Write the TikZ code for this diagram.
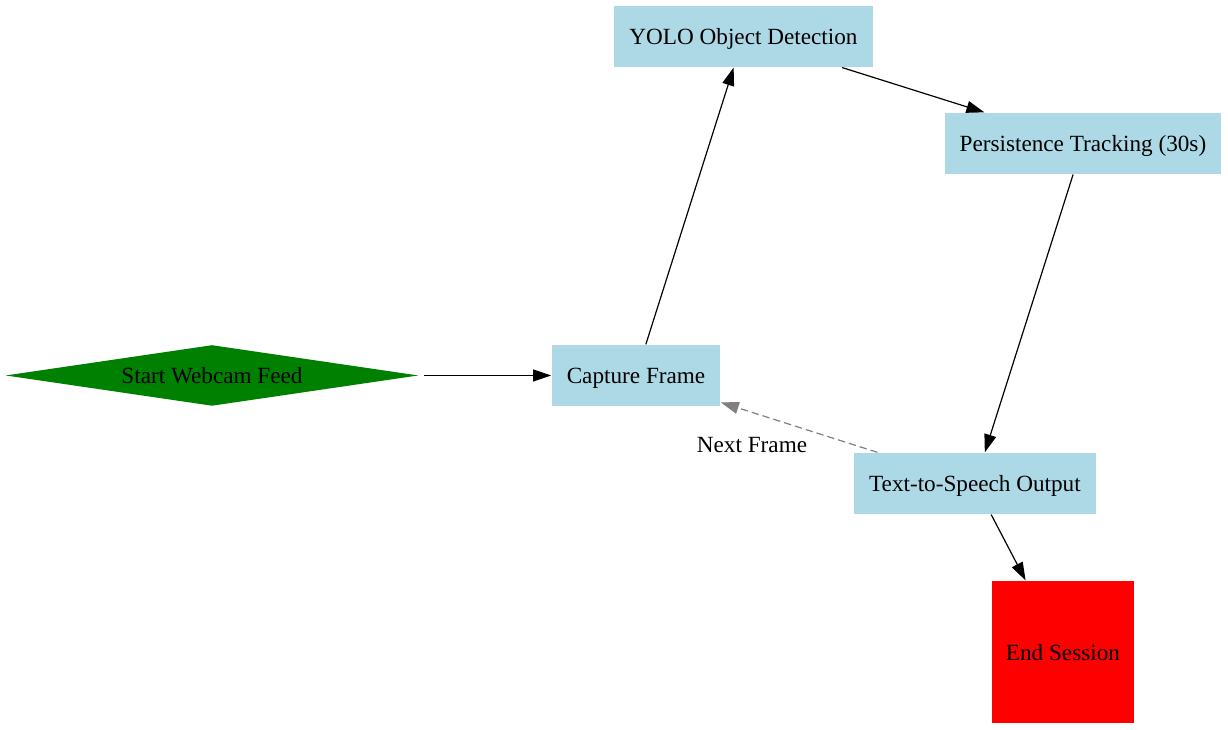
\documentclass[tikz,border=0pt]{standalone}
\usepackage{fontspec}
\setmainfont{Liberation Serif}
\usetikzlibrary{shapes.geometric,arrows.meta,positioning}
\definecolor{lightblue}{RGB}{173,216,230}
\definecolor{startgreen}{RGB}{0,128,0}

\begin{document}
\begin{tikzpicture}[on grid,line width=0.9pt,
  >={Triangle[length=13.5pt,width=9pt]},
  every node/.style={font=\fontsize{17.4pt}{20pt}\selectfont},
  textpos/.style={text height=14.7pt,text depth=2pt},
  proc/.style={rectangle,fill=lightblue,textpos,minimum height=45.75pt,inner xsep=11.25pt},
  startnode/.style={diamond,fill=startgreen,textpos,aspect=7,inner sep=0pt,
    minimum width=309.75pt,minimum height=45.75pt},
  endnode/.style={rectangle,fill=red,textpos,minimum size=106.5pt}]
  \useasboundingbox (0,0) rectangle (921pt,-547.5pt);
  \node[proc]      (capture) at (477pt,-281.6pt)            {Capture Frame};
  \node[startnode] (start)   [left=318pt of capture]         {Start Webcam Feed};
  \node[proc]      (yolo)    [above right=254.25pt and 80.6pt of capture] {YOLO Object Detection};
  \node[proc]      (persist) [below right=80.25pt and 254.6pt of yolo]    {Persistence Tracking (30s)};
  \node[proc]      (tts)     [below left=255pt and 81pt of persist]       {Text-to-Speech Output};
  \node[endnode]   (end)     [below right=126.4pt and 66pt of tts]        {End Session};
  \path[->] (start) edge [shorten <=3.75pt] (capture)
        (capture) edge (yolo)
        (yolo) edge (persist)
        (persist) edge (tts)
        (tts) edge (end)
        (tts) edge [gray,dash pattern=on 5.5pt off 3pt]
              node [pos=0.5,anchor=north east,inner sep=0pt,xshift=6.4pt,yshift=-7pt,black] {Next Frame} (capture);
\end{tikzpicture}
\end{document}
